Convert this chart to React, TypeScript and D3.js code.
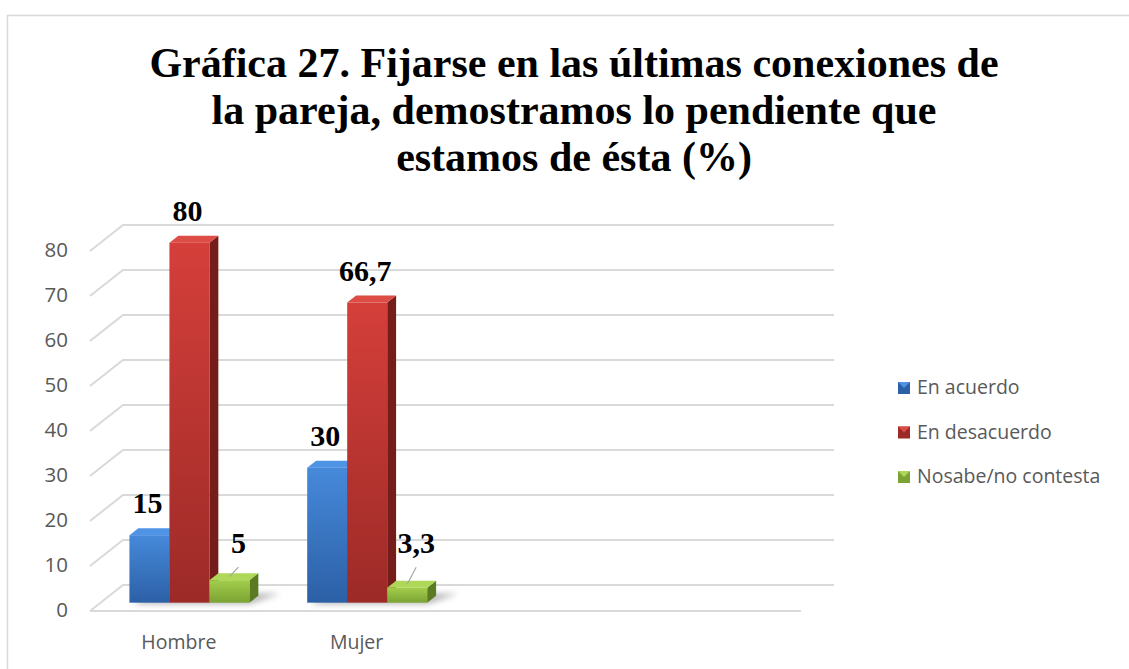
import React from 'react';
import * as d3 from 'd3';

const W = 1129;
const H = 669;

const titleLines = [
  'Gráfica 27. Fijarse en las últimas conexiones de',
  'la pareja, demostramos lo pendiente que',
  'estamos de ésta (%)',
];
const categories = ['Hombre', 'Mujer', '', ''];
const seriesNames = ['En acuerdo', 'En desacuerdo', 'Nosabe/no contesta'];
const enAcuerdo = [15, 30];
const enDesacuerdo = [80, 66.7];
const noSabe = [5, 3.3];
const yTicks = [0, 10, 20, 30, 40, 50, 60, 70, 80];

const seriesValues = [enAcuerdo, enDesacuerdo, noSabe];

// colores: frente (arriba, abajo), lado, tapa
const palette = [
  { top: '#4689da', bottom: '#2c60a6', side: '#24508c', cap: '#4f94e4' },
  { top: '#d53f3a', bottom: '#9c2a27', side: '#741d1b', cap: '#de4c46' },
  { top: '#a2ce4b', bottom: '#7ba233', side: '#5b7b22', cap: '#afd858' },
];

const fmt = (v: number) => String(v).replace('.', ',');

export default function App() {
  // plano frontal del gráfico 3D
  const x0 = 90;
  const x1 = 801;
  const yBase = 611;
  const DX = 33; // profundidad de la pared
  const DY = -26;
  const frontDepth = 0.32;
  const barDepth = 0.27;

  const y = d3.scaleLinear().domain([0, 80]).range([yBase, yBase - 360]);
  const xBand = d3.scaleBand<number>().domain(d3.range(categories.length)).range([x0, x1]);
  const inner = d3.scaleBand<number>().domain(d3.range(seriesNames.length)).range([0, 120]);

  const fx = frontDepth * DX;
  const fy = frontDepth * DY;
  const bdx = barDepth * DX;
  const bdy = barDepth * DY;

  const bars: any[] = [];
  categories.forEach((c, ci) => {
    seriesValues.forEach((vals, si) => {
      const v = vals[ci];
      if (v === undefined) return;
      const x = (xBand(ci) as number) + xBand.bandwidth() / 2 - 60 + fx + (inner(si) as number);
      const top = y(v) + fy;
      const bot = y(0) + fy;
      bars.push({ ci, si, v, x, w: inner.bandwidth(), top, bot });
    });
  });

  const pushedY = y(11) + fy;

  return (
    <svg width={W} height={H} style={{ position: 'absolute', left: 0, top: 0 }}>
      <defs>
        {palette.map((p, i) => (
          <linearGradient key={i} id={`g${i}`} x1="0" y1="0" x2="0" y2="1">
            <stop offset="0%" stopColor={p.top} />
            <stop offset="100%" stopColor={p.bottom} />
          </linearGradient>
        ))}
        <filter id="blur" x="-50%" y="-50%" width="200%" height="200%">
          <feGaussianBlur stdDeviation="3" />
        </filter>
      </defs>
      <rect x={0} y={0} width={W} height={H} fill="#fff" />
      <rect x={7.5} y={15.5} width={W} height={H} fill="none" stroke="#d9d9d9" strokeWidth={1.5} />

      {/* título */}
      <text
        x={574}
        textAnchor="middle"
        fontFamily="'Liberation Serif', 'Times New Roman', serif"
        fontWeight="bold"
        fontSize={42}
        fill="#000"
      >
        {titleLines.map((t, i) => (
          <tspan key={i} x={574} y={77 + i * 47}>
            {t}
          </tspan>
        ))}
      </text>

      {/* rejilla */}
      <g stroke="#d9d9d9" strokeWidth={2} fill="none">
        {yTicks.map((t) => (
          <path
            key={t}
            d={`M${x0},${y(t)} L${x0 + DX},${y(t) + DY} L${x1 + DX},${y(t) + DY}`}
          />
        ))}
        <line x1={x0} y1={y(0)} x2={x1} y2={y(0)} />
      </g>

      {/* eje y */}
      <g fontFamily="'Open Sans', sans-serif" fontSize={20.5} fill="#595959" textAnchor="end">
        {yTicks.map((t) => (
          <text key={t} x={68} y={y(t) + 1} dominantBaseline="middle">
            {t}
          </text>
        ))}
      </g>

      {/* categorías */}
      <g fontFamily="'Open Sans', sans-serif" fontSize={19.5} fill="#595959" textAnchor="middle">
        {categories.map((c, i) =>
          c ? (
            <text key={i} x={(xBand(i) as number) + xBand.bandwidth() / 2} y={649}>
              {c}
            </text>
          ) : null
        )}
      </g>

      {/* sombras */}
      <g filter="url(#blur)" fill="#000" opacity={0.3}>
        {categories.map((c, ci) => {
          const gb = bars.filter((b) => b.ci === ci);
          if (!gb.length) return null;
          const l = gb[0].x;
          const r = gb[gb.length - 1].x + gb[gb.length - 1].w;
          const b = gb[0].bot;
          return (
            <polygon
              key={ci}
              points={`${l + 4},${b + 1} ${r},${b + 1} ${r + bdx + 22},${b + bdy - 2} ${l + bdx + 10},${b + bdy - 2}`}
            />
          );
        })}
      </g>

      {/* barras 3D */}
      {bars.map((b, i) => {
        const p = palette[b.si];
        return (
          <g key={i}>
            <polygon
              points={`${b.x + b.w},${b.top} ${b.x + b.w + bdx},${b.top + bdy} ${b.x + b.w + bdx},${b.bot + bdy} ${b.x + b.w},${b.bot}`}
              fill={p.side}
            />
            <polygon
              points={`${b.x},${b.top} ${b.x + bdx},${b.top + bdy} ${b.x + b.w + bdx},${b.top + bdy} ${b.x + b.w},${b.top}`}
              fill={p.cap}
            />
            <rect x={b.x} y={b.top} width={b.w} height={b.bot - b.top} fill={`url(#g${b.si})`} />
          </g>
        );
      })}

      {/* etiquetas de datos */}
      {bars.map((b, i) => {
        const cx = b.x + b.w / 2;
        const pushed = b.top - 22 > pushedY;
        const ly = pushed ? pushedY : b.top - 22;
        const lx = pushed ? cx + 9 : cx - 2;
        return (
          <g key={i}>
            {pushed && (
              <line x1={cx} y1={b.top + bdy / 2} x2={lx} y2={ly + 14} stroke="#a6a6a6" strokeWidth={1.2} />
            )}
            <text
              x={lx}
              y={ly}
              textAnchor="middle"
              fontFamily="'Liberation Serif', 'Times New Roman', serif"
              fontWeight="bold"
              fontSize={30}
              fill="#000"
            >
              {fmt(b.v)}
            </text>
          </g>
        );
      })}

      {/* leyenda */}
      <g fontFamily="'Open Sans', sans-serif" fontSize={19.5} fill="#595959">
        {seriesNames.map((s, i) => {
          const ly = 388 + i * 44.5;
          const p = palette[i];
          return (
            <g key={s}>
              <rect x={898} y={ly - 6} width={12} height={12} fill={p.bottom} />
              <polygon points={`${898},${ly - 6} ${910},${ly - 6} ${904},${ly}`} fill={p.cap} />
              <text x={917} y={ly + 1} dominantBaseline="middle">
                {s}
              </text>
            </g>
          );
        })}
      </g>
    </svg>
  );
}
